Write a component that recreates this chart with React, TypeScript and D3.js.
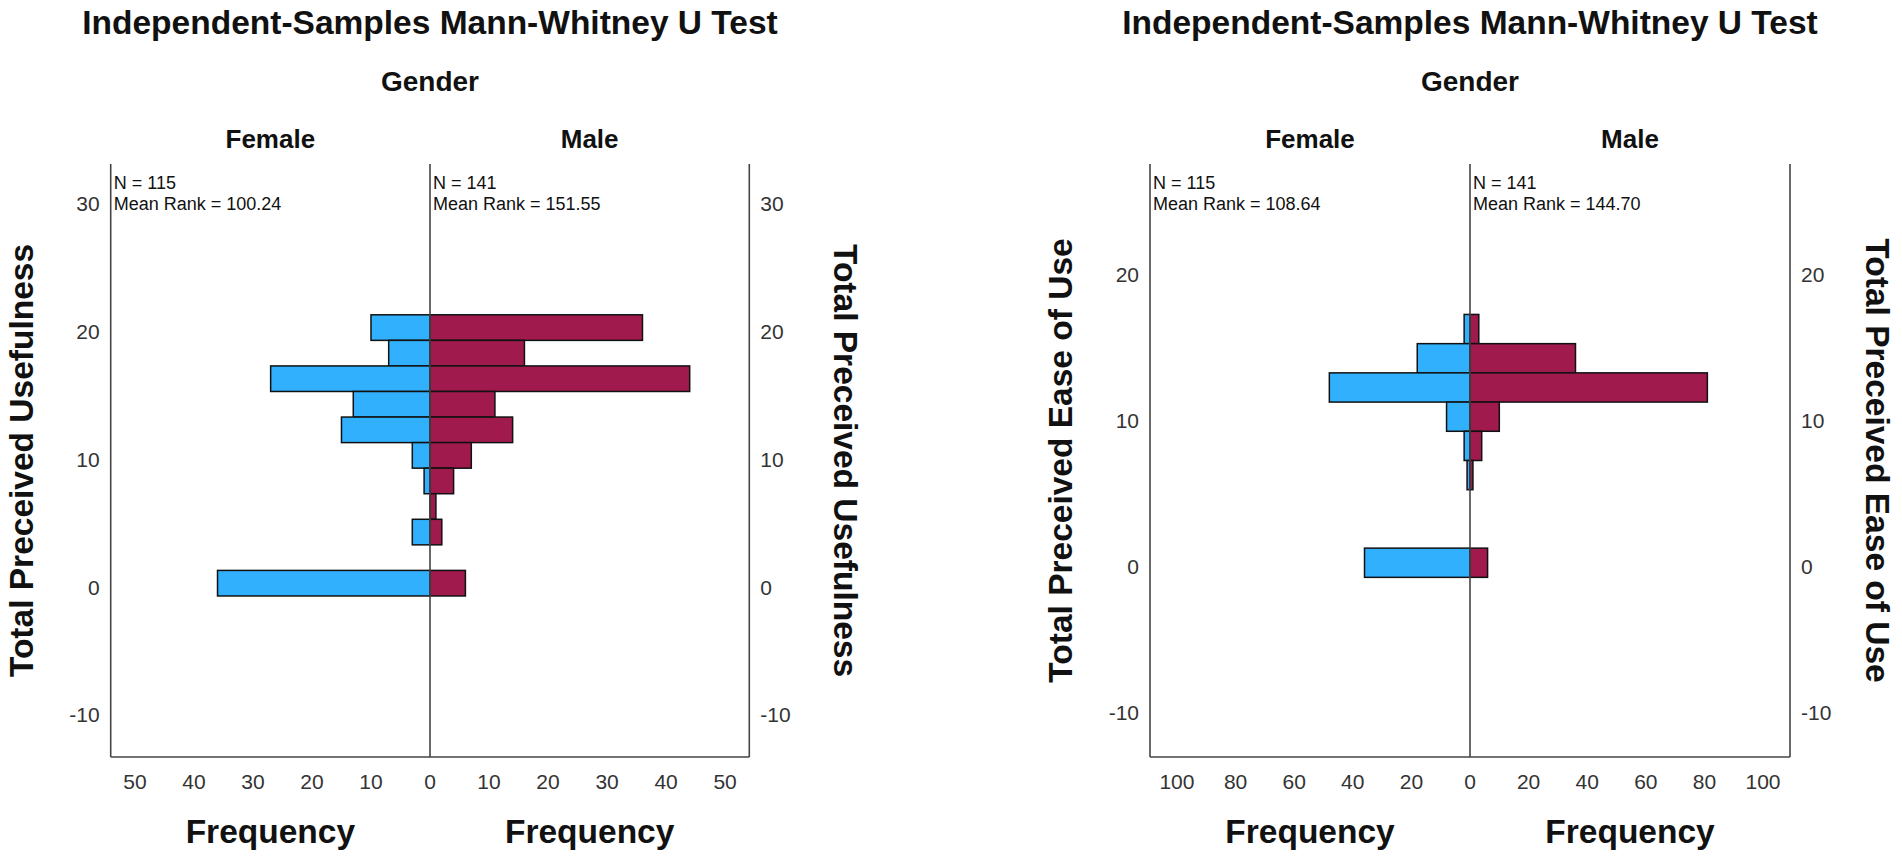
import React from 'react';
import * as d3 from 'd3';

// Gender groups and colours
const groups = ['Female', 'Male'];
const groupColors = ['#31b0fd', '#a01a4d'];

// Total Preceived Usefulness: bin centres (width 2) and counts
const usefulnessBins = [20, 18, 16, 14, 12, 10, 8, 6, 4, 0];
const usefulnessFemale = [10, 7, 27, 13, 15, 3, 1, 0, 3, 36];
const usefulnessMale = [36, 16, 44, 11, 14, 7, 4, 1, 2, 6];
const usefulnessN = [115, 141];
const usefulnessMeanRank = ['100.24', '151.55'];
const usefulnessYTicks = [30, 20, 10, 0, -10];
const usefulnessXTicks = [0, 10, 20, 30, 40, 50];

// Total Preceived Ease of Use
const easeBins = [16, 14, 12, 10, 8, 6, 0];
const easeFemale = [2, 18, 48, 8, 2, 1, 36];
const easeMale = [3, 36, 81, 10, 4, 1, 6];
const easeN = [115, 141];
const easeMeanRank = ['108.64', '144.70'];
const easeYTicks = [20, 10, 0, -10];
const easeXTicks = [0, 20, 40, 60, 80, 100];

const FONT = '"Liberation Sans", Arial, sans-serif';
const TOP = 164;
const BOTTOM = 757;

interface PyramidProps {
  left: number;
  center: number;
  right: number;
  xMax: number;
  yDomain: [number, number];
  bins: number[];
  female: number[];
  male: number[];
  n: number[];
  meanRank: string[];
  yTicks: number[];
  xTicks: number[];
  yTitle: string;
  rightTitleGap: number;
}

const Pyramid: React.FC<PyramidProps> = (p) => {
  const y = d3.scaleLinear().domain(p.yDomain).range([BOTTOM, TOP]);
  const xs = [
    d3.scaleLinear().domain([0, p.xMax]).range([p.center, p.left]),
    d3.scaleLinear().domain([0, p.xMax]).range([p.center, p.right]),
  ];
  const series = [p.female, p.male];
  const midY = (TOP + BOTTOM) / 2;
  const halfCenters = [(p.left + p.center) / 2, (p.center + p.right) / 2];

  return (
    <g fontFamily={FONT}>
      <text x={p.center} y={34} textAnchor="middle" fontSize={33.5} fontWeight="bold" fill="#111">
        Independent-Samples Mann-Whitney U Test
      </text>
      <text x={p.center} y={91} textAnchor="middle" fontSize={28} fontWeight="bold" fill="#111">
        Gender
      </text>
      {groups.map((gname, i) => (
        <text key={gname} x={halfCenters[i]} y={148} textAnchor="middle" fontSize={26} fontWeight="bold" fill="#111">
          {gname}
        </text>
      ))}

      {/* bars */}
      {series.map((vals, i) =>
        p.bins.map((b, j) => {
          if (vals[j] === 0) return null;
          const x0 = xs[i](0);
          const x1 = xs[i](vals[j]);
          return (
            <rect
              key={`${i}-${j}`}
              x={Math.min(x0, x1)}
              y={y(b + 1)}
              width={Math.abs(x1 - x0)}
              height={y(b - 1) - y(b + 1)}
              fill={groupColors[i]}
              stroke="#111"
              strokeWidth={1.5}
            />
          );
        })
      )}

      {/* frame */}
      <line x1={p.left} x2={p.left} y1={TOP} y2={BOTTOM} stroke="#444" strokeWidth={1.6} />
      <line x1={p.right} x2={p.right} y1={TOP} y2={BOTTOM} stroke="#444" strokeWidth={1.6} />
      <line x1={p.left} x2={p.right} y1={BOTTOM} y2={BOTTOM} stroke="#444" strokeWidth={1.6} />
      <line x1={p.center} x2={p.center} y1={TOP} y2={BOTTOM} stroke="#444" strokeWidth={1.6} />

      {/* N / mean rank */}
      {groups.map((gname, i) => {
        const x0 = i === 0 ? p.left + 3 : p.center + 3;
        return (
          <g key={`n-${gname}`} fontSize={18} fill="#111">
            <text x={x0} y={189}>N = {p.n[i]}</text>
            <text x={x0} y={210}>Mean Rank = {p.meanRank[i]}</text>
          </g>
        );
      })}

      {/* y tick labels, both sides */}
      {p.yTicks.map((t) => (
        <g key={`yt-${t}`} fontSize={21} fill="#333">
          <text x={p.left - 11} y={y(t) + 11.5} textAnchor="end">{t}</text>
          <text x={p.right + 11} y={y(t) + 11.5}>{t}</text>
        </g>
      ))}

      {/* x tick labels */}
      {xs.map((sc, i) =>
        p.xTicks.map((t) =>
          i === 1 && t === 0 ? null : (
            <text key={`xt-${i}-${t}`} x={sc(t)} y={789} textAnchor="middle" fontSize={21} fill="#333">
              {t}
            </text>
          )
        )
      )}

      {halfCenters.map((cx, i) => (
        <text key={`f-${i}`} x={cx} y={843} textAnchor="middle" fontSize={33.5} fontWeight="bold" fill="#111">
          Frequency
        </text>
      ))}

      <text
        transform={`translate(${p.left - 78},${midY}) rotate(-90)`}
        textAnchor="middle"
        fontSize={33.5}
        fontWeight="bold"
        fill="#111"
      >
        {p.yTitle}
      </text>
      <text
        transform={`translate(${p.right + p.rightTitleGap},${midY}) rotate(90)`}
        textAnchor="middle"
        fontSize={33.5}
        fontWeight="bold"
        fill="#111"
      >
        {p.yTitle}
      </text>
    </g>
  );
};

export default function App() {
  return (
    <div style={{ position: 'absolute', left: 0, top: 0 }}>
      <svg width={1902} height={866} style={{ display: 'block', background: '#fff' }}>
        <Pyramid
          left={110.7}
          center={430}
          right={749.3}
          xMax={54.1}
          yDomain={[-13.6, 32.8]}
          bins={usefulnessBins}
          female={usefulnessFemale}
          male={usefulnessMale}
          n={usefulnessN}
          meanRank={usefulnessMeanRank}
          yTicks={usefulnessYTicks}
          xTicks={usefulnessXTicks}
          yTitle="Total Preceived Usefulness"
          rightTitleGap={85}
        />
        <Pyramid
          left={1150}
          center={1470}
          right={1790}
          xMax={109.2}
          yDomain={[-13.3, 27.3]}
          bins={easeBins}
          female={easeFemale}
          male={easeMale}
          n={easeN}
          meanRank={easeMeanRank}
          yTicks={easeYTicks}
          xTicks={easeXTicks}
          yTitle="Total Preceived Ease of Use"
          rightTitleGap={76}
        />
      </svg>
    </div>
  );
}
